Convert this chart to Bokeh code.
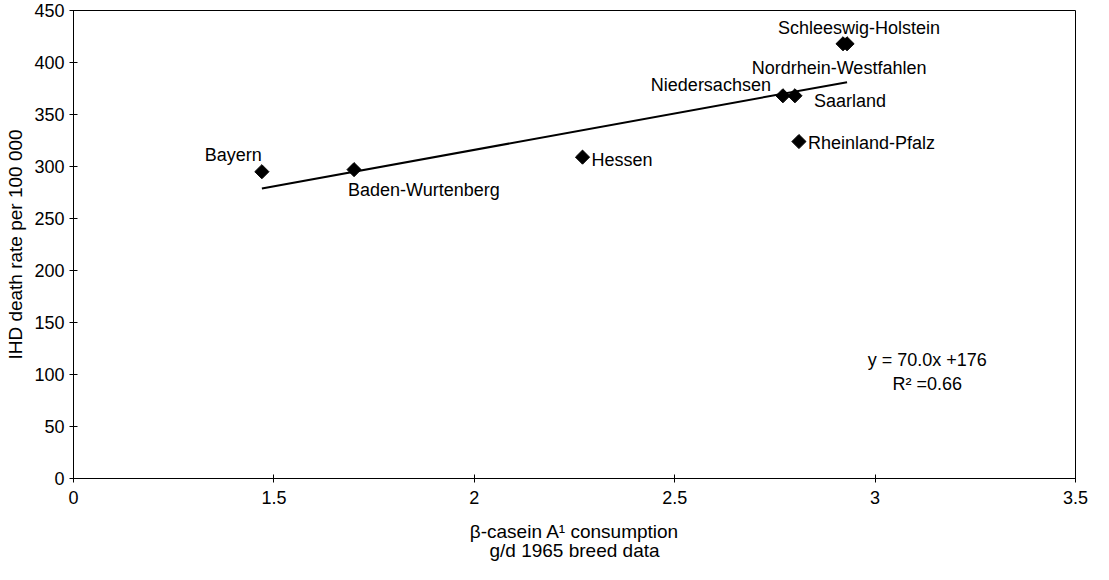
import numpy as np
from bokeh.plotting import figure
from bokeh.models import FixedTicker, Label, ColumnDataSource, Range1d
from bokeh.core.properties import value
from bokeh.embed import file_html
from bokeh.resources import INLINE

# ---- data ----
states = ["Bayern", "Baden-Wurtenberg", "Hessen", "Niedersachsen", "Saarland",
          "Rheinland-Pfalz", "Schleeswig-Holstein", "Nordrhein-Westfahlen"]
casein = [1.47, 1.70, 2.27, 2.77, 2.80, 2.81, 2.92, 2.93]
ihd = [295, 297, 309, 368, 368, 324, 418, 418]

slope = 70.0
intercept = 176.0
eq_text = "y = 70.0x +176"
r2_text = "R\u00b2 =0.66"

x_ticks = [1.0, 1.5, 2.0, 2.5, 3.0, 3.5]
x_tick_labels = ["0", "1.5", "2", "2.5", "3", "3.5"]
y_ticks = list(range(0, 451, 50))

x_title = "\u03b2-casein A\u00b9 consumption\ng/d 1965 breed data"
y_title = "IHD death rate per 100 000"

# ---- label placement (style only) ----
placement = {
    "Bayern": ("right", "bottom", 0, -7),
    "Baden-Wurtenberg": ("left", "top", -6, 10),
    "Hessen": ("left", "middle", 9, 3),
    "Niedersachsen": ("right", "middle", -12, -11),
    "Saarland": ("left", "middle", 19, 5),
    "Rheinland-Pfalz": ("left", "middle", 9, 1),
    "Schleeswig-Holstein": ("center", "middle", 16, -16),
    "Nordrhein-Westfahlen": ("center", "middle", -8, 24),
}

FONT = "Liberation Sans"
TICK_FS = "18px"
LBL_FS = "18px"

p = figure(width=1093, height=564, output_backend="svg", toolbar_location=None,
           x_range=Range1d(1.0, 3.5), y_range=Range1d(0, 450),
           min_border_left=73, min_border_right=18, min_border_top=10,
           min_border_bottom=84)
p.background_fill_color = "white"
p.border_fill_color = "white"
p.outline_line_color = "black"
p.outline_line_width = 1
p.xgrid.visible = False
p.ygrid.visible = False

for ax in (p.xaxis[0], p.yaxis[0]):
    ax.axis_line_color = "black"
    ax.major_tick_line_color = "black"
    ax.major_tick_in = 4
    ax.major_tick_out = 4
    ax.minor_tick_line_color = None
    ax.major_label_text_font = FONT
    ax.major_label_text_font_size = TICK_FS
    ax.major_label_text_color = "black"
    ax.axis_label_text_font = FONT
    ax.axis_label_text_font_style = "normal"
    ax.axis_label_text_color = "black"

p.xaxis.ticker = FixedTicker(ticks=x_ticks)
p.xaxis.major_label_overrides = {t: l for t, l in zip(x_ticks, x_tick_labels)}
p.xaxis.major_label_standoff = 8
p.xaxis.axis_label = x_title
p.xaxis.axis_label_text_font_size = "19px"
p.xaxis.axis_label_text_line_height = 0.95
p.xaxis.axis_label_standoff = 14

p.yaxis.ticker = FixedTicker(ticks=y_ticks)
p.yaxis.major_label_standoff = 5
p.yaxis.axis_label = y_title
p.yaxis.axis_label_text_font_size = "19px"
p.yaxis.axis_label_standoff = 5

# trend line
tx = [min(casein), max(casein)]
ty = [slope * v + intercept for v in tx]
p.line(tx, ty, line_color="black", line_width=2)

# points
src = ColumnDataSource(dict(x=casein, y=ihd, name=states))
p.scatter("x", "y", source=src, marker="square", angle=np.pi / 4, size=10,
          fill_color="black", line_color="black")

# labels
for s, xv, yv in zip(states, casein, ihd):
    al, bl, dx, dy = placement[s]
    p.text(x=[xv], y=[yv], text=[s], x_offset=dx, y_offset=dy,
           text_align=al, text_baseline=bl, text_font=value(FONT),
           text_font_size=LBL_FS, text_color="black")

# regression annotation
p.add_layout(Label(x=3.13, y=114, text=eq_text, text_align="center",
                   text_baseline="middle", text_font=FONT, text_font_size="18px",
                   text_color="black"))
p.add_layout(Label(x=3.13, y=91, text=r2_text, text_align="center",
                   text_baseline="middle", text_font=FONT, text_font_size="18px",
                   text_color="black"))

open("out.html", "w").write(file_html(p, INLINE))
